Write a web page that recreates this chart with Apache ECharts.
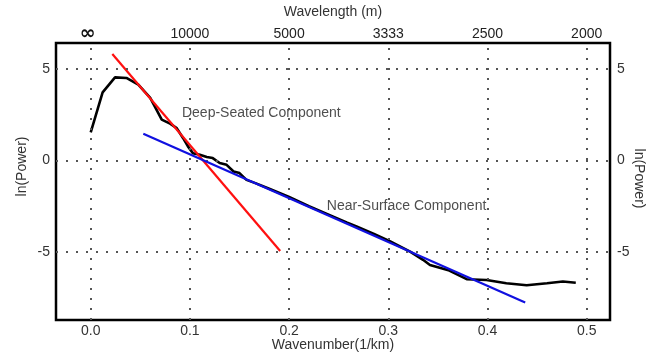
<!DOCTYPE html>
<html>
<head>
<meta charset="utf-8">
<script src="https://cdn.jsdelivr.net/npm/echarts@6/dist/echarts.min.js"></script>
<style>html,body{margin:0;padding:0;background:#fff}#c{width:654px;height:353px}</style>
</head>
<body>
<div id="c"></div>
<script>
// Observed spectrum
const wavenumber = [0, 0.012, 0.0245, 0.036, 0.048, 0.060, 0.0716, 0.080, 0.0867, 0.093, 0.098, 0.103, 0.110, 0.117, 0.123, 0.130, 0.137, 0.144, 0.150, 0.157, 0.166, 0.180, 0.200, 0.220, 0.2445, 0.258, 0.268, 0.285, 0.302, 0.322, 0.335, 0.342, 0.3615, 0.379, 0.399, 0.419, 0.4395, 0.460, 0.476, 0.489];
const lnPower = [1.53, 3.72, 4.54, 4.51, 4.14, 3.42, 2.23, 2.01, 1.77, 1.23, 0.77, 0.40, 0.31, 0.19, 0.13, -0.14, -0.24, -0.60, -0.69, -1.06, -1.24, -1.55, -2.00, -2.50, -3.07, -3.39, -3.61, -4.00, -4.43, -4.98, -5.43, -5.71, -6.02, -6.49, -6.53, -6.71, -6.82, -6.71, -6.62, -6.68];
// Fitted lines
const deepFitX = [0.0218, 0.191];
const deepFitY = [5.82, -4.95];
const nearFitX = [0.053, 0.438];
const nearFitY = [1.46, -7.77];
// Ticks
const xTicks = [0, 0.1, 0.2, 0.3, 0.4, 0.5];
const xTickLabels = ['0.0', '0.1', '0.2', '0.3', '0.4', '0.5'];
const wavelengthLabels = ['∞', '10000', '5000', '3333', '2500', '2000'];
const yTicks = [-5, 0, 5];
// Annotations
const annotations = [
  {text: 'Deep-Seated Component', x: 0.092, y: 2.57},
  {text: 'Near-Surface Component', x: 0.238, y: -2.47}
];

const FONT = 'Liberation Sans, Arial, sans-serif';
const zip = (xs, ys) => xs.map((x, i) => [x, ys[i]]);
const dotted = {type: [2, 8], color: '#555', width: 2};

const chart = echarts.init(document.getElementById('c'), null, {renderer: 'canvas'});
const xCommon = {
  type: 'value', min: -0.035, max: 0.5235,
  axisLine: {show: false}, axisTick: {show: false}, splitLine: {show: false},
  nameLocation: 'middle', nameMoveOverlap: false,
  nameTextStyle: {fontFamily: FONT, fontSize: 14, color: '#333'}
};
const yCommon = {
  type: 'value', min: -8.72, max: 6.42,
  axisLine: {show: false}, axisTick: {show: false}, splitLine: {show: false},
  nameLocation: 'middle', name: 'ln(Power)', nameMoveOverlap: false
};
chart.setOption({
  animation: false,
  backgroundColor: '#fff',
  grid: {left: 56, right: 44, top: 43, bottom: 33, show: true, borderColor: '#000', borderWidth: 2.5,
    backgroundColor: 'transparent', containLabel: false, outerBoundsMode: 'none'},
  xAxis: [
    Object.assign({}, xCommon, {
      position: 'bottom', name: 'Wavenumber(1/km)', nameGap: 18,
      axisLabel: {customValues: xTicks, margin: 4, fontFamily: FONT, fontSize: 14, color: '#333',
        formatter: v => { const i = xTicks.findIndex(t => Math.abs(t - v) < 1e-9); return i >= 0 ? xTickLabels[i] : ''; }}
    }),
    Object.assign({}, xCommon, {
      position: 'top', name: 'Wavelength (m)', nameGap: 24,
      axisLabel: {customValues: xTicks, margin: 2, fontFamily: FONT, fontSize: 14, color: '#222',
        formatter: v => { const i = xTicks.findIndex(t => Math.abs(t - v) < 1e-9); if (i < 0) return ''; return i === 0 ? '{inf|' + wavelengthLabels[i] + '}' : wavelengthLabels[i]; },
        rich: {inf: {fontSize: 19, lineHeight: 13, fontWeight: 'bold', color: '#111', fontFamily: 'DejaVu Sans', padding: [0, 6, 0, 0]}}}
    })
  ],
  yAxis: [
    Object.assign({}, yCommon, {
      position: 'left', nameGap: 27, nameRotate: 90,
      nameTextStyle: {fontFamily: FONT, fontSize: 14, color: '#333', padding: [0, 0, 0, 30]},
      axisLabel: {customValues: yTicks, margin: 6, fontFamily: FONT, fontSize: 14, color: '#333'}
    }),
    Object.assign({}, yCommon, {
      position: 'right', nameGap: 22, nameRotate: -90,
      nameTextStyle: {fontFamily: FONT, fontSize: 14, color: '#333', padding: [0, 6, 0, 0]},
      axisLabel: {customValues: yTicks, margin: 7, fontFamily: FONT, fontSize: 14, color: '#333'}
    })
  ],
  series: [
    {
      type: 'line', name: 'grid', data: [], silent: true,
      markLine: {
        symbol: 'none', silent: true, label: {show: false}, lineStyle: dotted,
        emphasis: {disabled: true},
        data: xTicks.map(v => ({xAxis: v})).concat(yTicks.map(v => ({yAxis: v})))
      }
    },
    {
      type: 'line', name: 'Spectrum', data: zip(wavenumber, lnPower), showSymbol: false,
      lineStyle: {color: '#000', width: 2.6}, z: 3
    },
    {
      type: 'line', name: 'Deep', data: zip(deepFitX, deepFitY), showSymbol: false,
      lineStyle: {color: '#ff1010', width: 2.2}, z: 4
    },
    {
      type: 'line', name: 'Near', data: zip(nearFitX, nearFitY), showSymbol: false,
      lineStyle: {color: '#1010e0', width: 2.2}, z: 5
    },
    {
      type: 'scatter', name: 'labels', symbolSize: 0, silent: true,
      data: annotations.map(a => ({value: [a.x, a.y], name: a.text})),
      label: {show: true, position: 'right', distance: 0, formatter: p => p.name,
        fontFamily: FONT, fontSize: 14, color: '#222'}
    }
  ]
});
</script>
</body>
</html>
